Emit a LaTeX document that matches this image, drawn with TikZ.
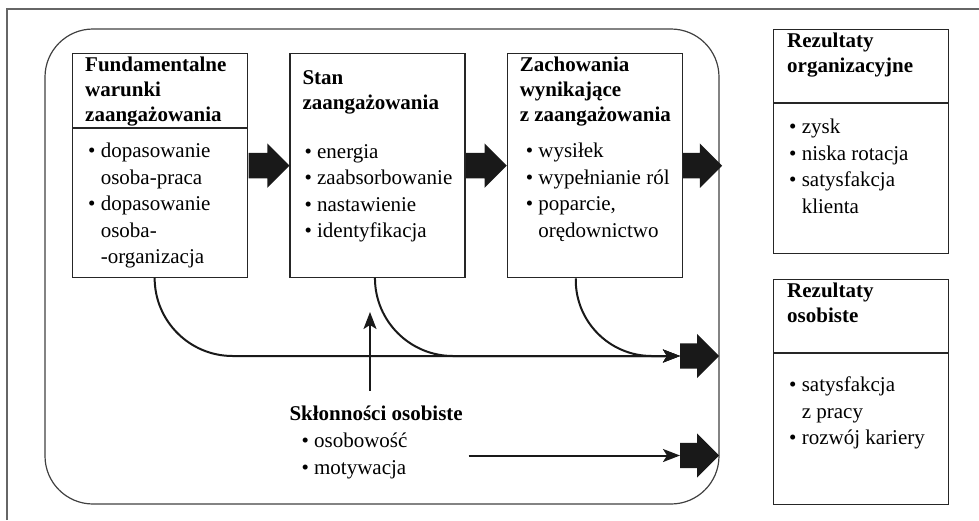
\documentclass[tikz,border=0pt]{standalone}
\usepackage{fontspec}
\setmainfont{Liberation Serif}
\usetikzlibrary{positioning,arrows.meta,shapes.arrows}

\tikzset{
  box/.style={draw=black!85, line width=1.3pt, minimum width=175pt, minimum height=224pt, inner sep=0pt},
  boxline/.style={draw=black!85, line width=1.3pt},
  head/.style={font=\bfseries\fontsize{21}{25}\selectfont, align=left, anchor=north west, inner sep=0pt,
    execute at begin node=\strut},
  list/.style={font=\fontsize{21}{26.5}\selectfont, align=left, anchor=north west, inner sep=0pt,
    execute at begin node=\strut},
  blockarr/.style={single arrow, fill=black!90, draw=none, anchor=tail, inner xsep=0pt, inner ysep=12.5pt,
    single arrow head extend=9.5pt, minimum height=41pt},
  conn/.style={draw=black!90, line width=2pt, -{Stealth[length=17pt,width=13pt,inset=4pt]}},
}
\newcommand{\punkt}{\textbullet\ }
\newcommand{\wciecie}{\hphantom{\textbullet\ }}

\begin{document}
\begin{tikzpicture}[x=1pt, y=-1pt]
\useasboundingbox (0,0) rectangle (979,520);
% ramki
\draw[black!60, line width=2pt] (7,520) -- (7,9) -- (979,9);
\draw[black!75, line width=1.2pt, rounded corners=48pt] (45,29) rectangle (719,504);

% bloki
\node[box, anchor=north west] (b1) at (72,53) {};
\node[box, right=41pt of b1] (b2) {};
\node[box, right=41pt of b2] (b3) {};
\node[box, anchor=north west] (b4) at (773,29) {};
\node[box, anchor=north west, minimum height=225pt] (b5) at (773,279) {};

\draw[boxline] ([yshift=-75pt]b1.north west) -- ([yshift=-75pt]b1.north east);
\draw[boxline] ([yshift=-74pt]b4.north west) -- ([yshift=-74pt]b4.north east);
\draw[boxline] ([yshift=-74pt]b5.north west) -- ([yshift=-74pt]b5.north east);

% teksty
\node[head] (h1) at ([shift={(13pt,-3.5pt)}]b1.north west) {Fundamentalne\\warunki\\zaangażowania};
\node[list] (l1) at ([shift={(16pt,-90pt)}]b1.north west)
  {\punkt dopasowanie\\\wciecie osoba-praca\\\punkt dopasowanie\\\wciecie osoba-\\\wciecie -organizacja};

\node[head] (h2) at ([shift={(13pt,-17.5pt)}]b2.north west) {Stan\\zaangażowania};
\node[list] (l2) at ([shift={(15pt,-91pt)}]b2.north west)
  {\punkt energia\\\punkt zaabsorbowanie\\\punkt nastawienie\\\punkt identyfikacja};

\node[head] (h3) at ([shift={(13pt,-3.5pt)}]b3.north west) {Zachowania\\wynikające\\z~zaangażowania};
\node[list] (l3) at ([shift={(19pt,-90pt)}]b3.north west)
  {\punkt wysiłek\\\punkt wypełnianie ról\\\punkt poparcie,\\\wciecie orędownictwo};

\node[head] (h4) at ([shift={(14pt,-3.5pt)}]b4.north west) {Rezultaty\\organizacyjne};
\node[list] (l4) at ([shift={(16pt,-90pt)}]b4.north west)
  {\punkt zysk\\\punkt niska rotacja\\\punkt satysfakcja\\\wciecie klienta};

\node[head] (h5) at ([shift={(14pt,-3.5pt)}]b5.north west) {Rezultaty\\osobiste};
\node[list] (l5) at ([shift={(16pt,-98pt)}]b5.north west)
  {\punkt satysfakcja\\\wciecie z pracy\\\punkt rozwój kariery};

\node[head] (sk) at ([yshift=-124.5pt]b2.south west) {Skłonności osobiste};
\node[list] (skl) at ([shift={(12pt,-30pt)}]sk.north west) {\punkt osobowość\\\punkt motywacja};

% strzalki blokowe
\node[blockarr] (a1) at (b1.east) {};
\node[blockarr] (a2) at (b2.east) {};
\node[blockarr, minimum height=39pt] (a3) at (b3.east) {};
\node[blockarr, minimum height=39pt] (a4) at (680,356) {};
\node[blockarr, minimum height=39pt] (a5) at (680,455.5) {};

% polaczenia
\coordinate (ptop) at (370,312);
\draw[conn, rounded corners=78pt] ([xshift=-5.5pt]b1.south) |- (a4.tail);
\draw[conn, rounded corners=78pt] ([xshift=-2.5pt]b2.south) |- (a4.tail);
\draw[conn, rounded corners=76pt] ([xshift=-19pt]b3.south) |- (a4.tail);
\draw[conn] ([yshift=12pt]sk.north -| ptop) -- (ptop);
\draw[conn] ([xshift=3pt]b2.east |- a5.tail) -- (a5.tail);
\end{tikzpicture}
\end{document}
